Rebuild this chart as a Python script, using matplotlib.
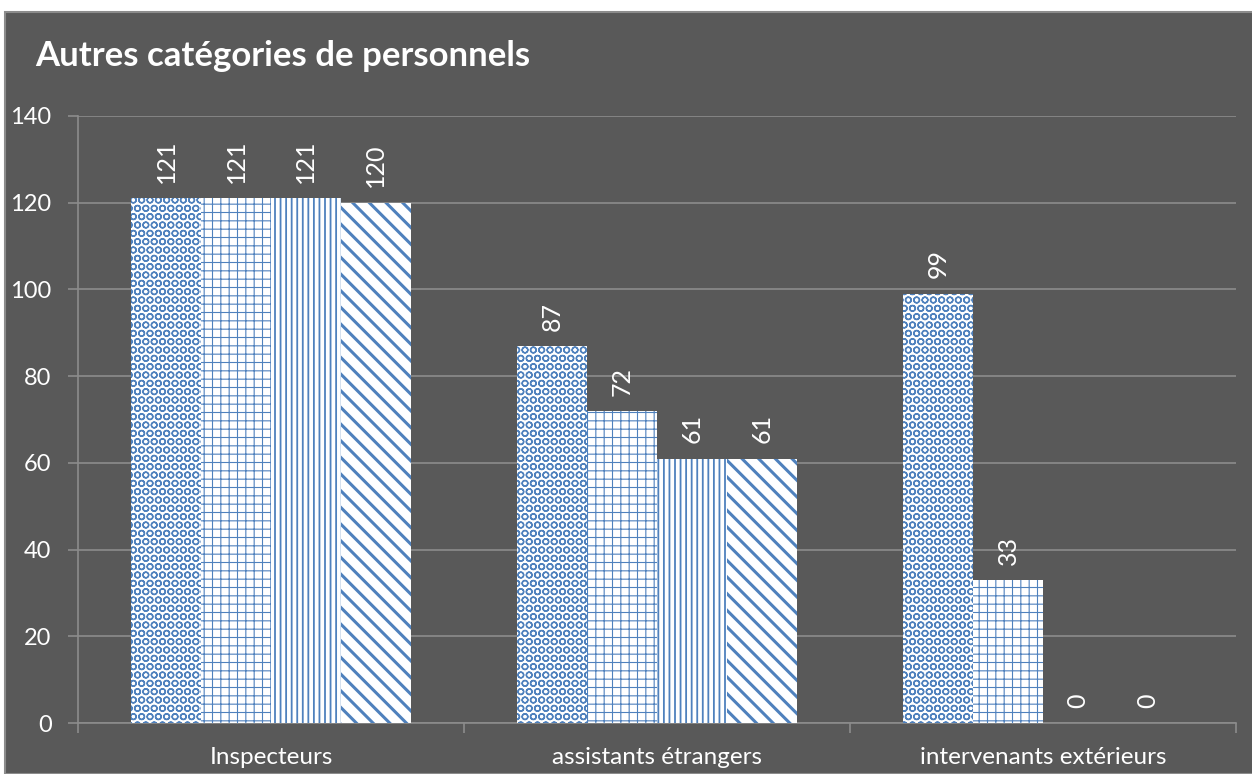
import matplotlib as mpl
import matplotlib.pyplot as plt
import matplotlib.patches as mpatches
import numpy as np

plt.rcParams['font.family'] = ['Lato', 'DejaVu Sans']

categories = ['Inspecteurs', 'assistants étrangers', 'intervenants extérieurs']
serie1 = [121, 87, 99]
serie2 = [121, 72, 33]
serie3 = [121, 61, 0]
serie4 = [120, 61, 0]
series = [serie1, serie2, serie3, serie4]
hatches = ['OO', '++', '|||', '\\\\']
hatch_lw = [1.0, 0.8, 1.3, 2.2]

bg = '#595959'
blue = '#4F81BD'
grid = '#8C8C8C'

fig = plt.figure(figsize=(12.52, 7.74), dpi=100)
fig.patch.set_facecolor('white')
# chart area background with thin border
fig.patches.append(mpatches.Rectangle((5 / 1252, 0), 1, 1 - 12 / 774, transform=fig.transFigure,
                                      facecolor=bg, edgecolor=grid, linewidth=1.5, zorder=-10))

ax = fig.add_axes([78 / 1252, 51 / 774, (1236 - 78) / 1252, (723 - 116) / 774])
ax.set_facecolor(bg)

x = np.arange(len(categories))
w = 0.181
for i, vals in enumerate(series):
    pos = x + (i - 1.5) * w
    with mpl.rc_context({'hatch.linewidth': hatch_lw[i]}):
        bars = ax.bar(pos, vals, w, color='white', edgecolor=blue, linewidth=0,
                      hatch=hatches[i], zorder=3)
    for b, v in zip(bars, vals):
        if hasattr(b, 'set_hatch_linewidth'):
            b.set_hatch_linewidth(hatch_lw[i])
        ax.annotate(str(v), (b.get_x() + b.get_width() / 2, v), xytext=(0, 11),
                    textcoords='offset points', rotation=90, ha='center', va='bottom',
                    color='white', fontsize=18)

ax.set_xlim(-0.5, 2.5)
ax.set_ylim(0, 140)
ax.set_yticks(range(0, 141, 20))
ax.yaxis.grid(True, color=grid, linewidth=1.2)
ax.set_axisbelow(True)

ax.set_xticks(x)
ax.set_xticklabels(categories)
ax.set_xticks([-0.5, 0.5, 1.5, 2.5], minor=True)
ax.tick_params(axis='x', which='major', length=0, pad=17, labelsize=17.5, labelcolor='white')
ax.tick_params(axis='x', which='minor', length=7, color=grid, width=1.2)
ax.tick_params(axis='y', length=7, color=grid, width=1.2, pad=12, labelsize=17, labelcolor='white')

for s in ['top', 'right']:
    ax.spines[s].set_visible(False)
ax.spines['left'].set_color(grid)
ax.spines['bottom'].set_color(grid)
ax.spines['left'].set_linewidth(1.2)
ax.spines['bottom'].set_linewidth(1.2)

fig.text(35 / 1252, 1 - 56 / 774, 'Autres catégories de personnels', color='white',
         fontsize=25, fontweight='bold', va='center', ha='left')

fig.savefig('out.png', dpi=100, facecolor=fig.get_facecolor())
